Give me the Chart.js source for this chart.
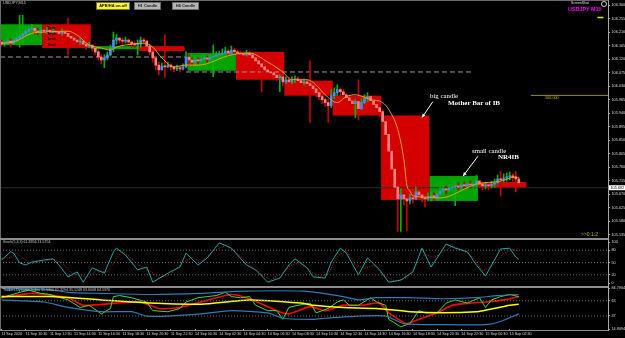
<!DOCTYPE html>
<html>
<head>
<meta charset="utf-8">
<script src="https://cdn.jsdelivr.net/npm/chart.js@4.4.1/dist/chart.umd.min.js"></script>
<style>
    html, body { margin: 0; padding: 0; background: #000; }
    #wrap { position: relative; width: 625px; height: 338px; overflow: hidden; background: #000; font-family: 'Liberation Sans', Arial, sans-serif; }
    canvas { position: absolute; left: 0; }
    .t { position: absolute; white-space: nowrap; line-height: 1; }
    .ln { position: absolute; background: #8c8c8c; }
    .btn { position: absolute; height: 6px; font-size: 4px; font-weight: bold; line-height: 6px; text-align: center; border: 1px solid #6a6a6a; }
    .serif { font-family: 'Liberation Serif', 'Times New Roman', serif; color: #fff; }
</style>
</head>
<body>
<div id="wrap">
    <canvas id="mainChart" width="625" height="238" style="top:0"></canvas>
    <canvas id="stochChart" width="625" height="52" style="top:236px"></canvas>
    <canvas id="tdiChart" width="625" height="54" style="top:284px"></canvas>

    <!-- frame -->
    <div class="ln" style="left:0;top:0;width:608px;height:1px;background:#6a6a6a"></div>
    <div class="ln" style="left:0;top:0;width:1px;height:331px;background:#6a6a6a"></div>
    <div class="ln" style="left:0;top:238px;width:608px;height:2px"></div>
    <div class="ln" style="left:0;top:286px;width:608px;height:2px"></div>
    <div class="ln" style="left:0;top:330px;width:609px;height:1px"></div>
    <div class="ln" style="left:608px;top:0;width:1px;height:331px;background:#a8a8a8"></div>

    <!-- header -->
    <div class="t" style="left:3px;top:2px;font-size:3.8px;color:#c8c8c8">USDJPY,M15</div>
    <div class="btn" style="left:96px;top:2px;width:32px;background:#ffff00;color:#000">APB/HA on-off</div>
    <div class="btn" style="left:134px;top:2px;width:25px;background:#b4b4b4;color:#202020">H1 Candle</div>
    <div class="btn" style="left:172px;top:2px;width:25px;background:#b4b4b4;color:#202020">H4 Candle</div>
    <div class="t" style="left:571px;top:1.5px;font-size:3.4px;color:#e0e0e0">ScreenShot</div>
    <div style="position:absolute;left:601px;top:1px;width:4px;height:4px;border:1px solid #d0d0d0;border-radius:50%"></div>
    <div class="t" style="left:568px;top:7px;font-size:5.4px;font-weight:bold;color:#ff00ff">USDJPY M15</div>

    <!-- objects on chart -->
    <div class="t" style="left:47px;top:25.5px;font-size:4.4px;font-weight:bold;color:#000">Text</div>
    <div class="t" style="left:47px;top:31.5px;font-size:4.4px;font-weight:bold;color:#000">Text</div>
    <div class="t" style="left:47px;top:37px;font-size:4.4px;font-weight:bold;color:#000">Text</div>
    <div class="t" style="left:47px;top:43px;font-size:4.4px;font-weight:bold;color:#000">Text</div>
    <div class="t serif" style="left:430px;top:93px;font-size:6.8px">big candle</div>
    <div class="t serif" style="left:448px;top:100px;font-size:7px;font-weight:bold">Mother Bar of IB</div>
    <div class="t serif" style="left:472px;top:148px;font-size:6.8px">small candle</div>
    <div class="t serif" style="left:498px;top:154px;font-size:7px;font-weight:bold">NR4IB</div>
    <div class="t" style="left:545px;top:96.5px;font-size:3.8px;color:#b8b800">106.000</div>
    <div class="t" style="left:581px;top:232px;font-size:5px;color:#b8b800">&gt;&gt;0:1:2</div>

    <!-- indicator captions -->
    <div class="t" style="left:3px;top:241px;font-size:3.6px;color:#c8c8c8">Stoch(5,3,3) 61.8356 74.5754</div>
    <div class="t" style="left:3px;top:289px;font-size:3.6px;color:#c8c8c8">Traders Dynamic Index 31.5300 61.3294 35.1248 63.6008 64.5376</div>
</div>

<script>
// ============================================
// USDJPY M15 - APB/HA bars with H4 boxes, Stoch, TDI
// ============================================

Chart.defaults.font.family = "'Liberation Sans', Arial, sans-serif";

// --- PRICE DATA (one value per M15 bar, index 0 = 11 Sep 08:30) ---
const firstOpen = 106.178;
const barClose = [
    106.171, 106.174, 106.181, 106.174, 106.184, 106.191, 106.197, 106.204, 106.214, 106.221,
    106.224, 106.214, 106.211, 106.217, 106.214, 106.217, 106.211, 106.214, 106.211, 106.207,
    106.211, 106.207, 106.197, 106.191, 106.184, 106.178, 106.181, 106.171, 106.164, 106.168,
    106.158, 106.145, 106.128, 106.118, 106.125, 106.135, 106.158, 106.184, 106.191, 106.184,
    106.181, 106.184, 106.178, 106.171, 106.168, 106.171, 106.184, 106.181, 106.164, 106.145,
    106.125, 106.101, 106.085, 106.098, 106.095, 106.101, 106.095, 106.088, 106.092, 106.088,
    106.095, 106.128, 106.118, 106.111, 106.118, 106.115, 106.121, 106.125, 106.121, 106.128,
    106.131, 106.135, 106.138, 106.141, 106.148, 106.141, 106.151, 106.145, 106.141, 106.138,
    106.135, 106.141, 106.135, 106.125, 106.115, 106.105, 106.095, 106.085, 106.078, 106.075,
    106.068, 106.059, 106.062, 106.045, 106.052, 106.045, 106.052, 106.055, 106.049, 106.042,
    106.045, 106.039, 106.032, 106.022, 106.009, 105.996, 105.986, 105.976, 105.966, 105.999,
    106.009, 106.019, 106.012, 106.002, 105.992, 105.982, 105.972, 105.979, 105.956, 105.976,
    105.989, 105.996, 105.982, 105.969, 105.959, 105.946, 105.913, 105.870, 105.814, 105.754,
    105.694, 105.655, 105.668, 105.655, 105.648, 105.658, 105.655, 105.678, 105.668, 105.658,
    105.655, 105.661, 105.665, 105.658, 105.671, 105.681, 105.688, 105.685, 105.691, 105.694,
    105.698, 105.694, 105.701, 105.698, 105.704, 105.701, 105.704, 105.714, 105.704, 105.698,
    105.701, 105.698, 105.704, 105.708, 105.721, 105.718, 105.724, 105.728, 105.731, 105.728,
    105.721, 105.708
];
const barHigh = [
    106.184, 106.184, 106.191, 106.188, 106.194, 106.207, 106.267, 106.267, 106.227, 106.231,
    106.237, 106.227, 106.224, 106.227, 106.224, 106.227, 106.221, 106.224, 106.221, 106.217,
    106.221, 106.217, 106.257, 106.204, 106.197, 106.191, 106.191, 106.184, 106.178, 106.178,
    106.168, 106.161, 106.151, 106.135, 106.135, 106.145, 106.168, 106.211, 106.204, 106.194,
    106.191, 106.194, 106.188, 106.181, 106.178, 106.184, 106.194, 106.191, 106.184, 106.171,
    106.151, 106.131, 106.111, 106.108, 106.201, 106.111, 106.105, 106.098, 106.101, 106.098,
    106.105, 106.145, 106.135, 106.125, 106.128, 106.125, 106.131, 106.135, 106.131, 106.138,
    106.168, 106.145, 106.148, 106.154, 106.161, 106.154, 106.164, 106.158, 106.151, 106.148,
    106.145, 106.151, 106.148, 106.138, 106.128, 106.118, 106.141, 106.098, 106.092, 106.085,
    106.082, 106.072, 106.068, 106.065, 106.062, 106.059, 106.062, 106.065, 106.062, 106.055,
    106.055, 106.052, 106.115, 106.039, 106.025, 106.012, 106.002, 105.992, 105.986, 106.019,
    106.025, 106.035, 106.025, 106.019, 106.006, 105.996, 105.989, 105.986, 106.052, 105.989,
    106.002, 106.009, 105.996, 105.986, 105.972, 105.966, 105.953, 105.926, 105.886, 105.820,
    105.771, 105.704, 105.688, 105.675, 105.671, 105.671, 105.668, 105.694, 105.685, 105.675,
    105.668, 105.675, 105.678, 105.675, 105.681, 105.694, 105.701, 105.698, 105.704, 105.708,
    105.714, 105.708, 105.708, 105.711, 105.711, 105.714, 105.711, 105.734, 105.718, 105.711,
    105.711, 105.711, 105.714, 105.721, 105.734, 105.747, 105.738, 105.741, 105.744, 105.738,
    105.747, 105.728
];
const barLow = [
    106.164, 106.164, 106.168, 106.161, 106.171, 106.178, 106.161, 106.168, 106.194, 106.204,
    106.211, 106.204, 106.201, 106.204, 106.204, 106.207, 106.201, 106.204, 106.201, 106.197,
    106.201, 106.197, 106.135, 106.181, 106.174, 106.168, 106.171, 106.161, 106.154, 106.158,
    106.148, 106.135, 106.118, 106.105, 106.092, 106.118, 106.131, 106.145, 106.171, 106.174,
    106.171, 106.174, 106.168, 106.161, 106.158, 106.135, 106.161, 106.171, 106.154, 106.135,
    106.111, 106.085, 106.068, 106.085, 106.059, 106.092, 106.085, 106.078, 106.082, 106.078,
    106.085, 106.092, 106.098, 106.098, 106.105, 106.105, 106.108, 106.111, 106.108, 106.115,
    106.062, 106.121, 106.125, 106.128, 106.135, 106.131, 106.138, 106.135, 106.131, 106.128,
    106.125, 106.131, 106.125, 106.115, 106.105, 106.095, 106.012, 106.075, 106.068, 106.065,
    106.059, 106.049, 106.012, 106.032, 106.039, 106.035, 106.039, 106.042, 106.039, 106.032,
    106.035, 106.029, 105.910, 106.012, 105.996, 105.986, 105.972, 105.963, 105.910, 105.959,
    105.989, 105.999, 105.999, 105.989, 105.979, 105.969, 105.959, 105.926, 105.920, 105.953,
    105.972, 105.979, 105.969, 105.956, 105.943, 105.929, 105.903, 105.853, 105.787, 105.721,
    105.655, 105.546, 105.546, 105.635, 105.549, 105.638, 105.641, 105.651, 105.655, 105.645,
    105.628, 105.648, 105.648, 105.648, 105.658, 105.665, 105.671, 105.671, 105.678, 105.681,
    105.632, 105.685, 105.685, 105.688, 105.688, 105.691, 105.691, 105.688, 105.691, 105.685,
    105.688, 105.685, 105.691, 105.694, 105.704, 105.665, 105.711, 105.714, 105.718, 105.714,
    105.678, 105.701
];

// --- H4 CANDLE BOXES (first bar, last bar, open, close) ---
const h4Start = [-2, 14, 30, 46, 62, 78, 94, 110, 126, 142, 158];
const h4End   = [13, 29, 45, 60, 77, 93, 109, 125, 141, 157, 173];
const h4Open  = [106.168, 106.237, 106.154, 106.164, 106.082, 106.145, 106.049, 105.999, 105.933, 105.648, 105.711];
const h4Close = [106.237, 106.158, 106.164, 106.148, 106.141, 106.052, 105.999, 105.933, 105.651, 105.731, 105.691];

// --- MOVING AVERAGE (orange) ---
const maIdx = [0, 4, 10, 14, 22, 25, 29, 33, 36, 38, 41, 47, 50, 53, 57, 61, 65, 76, 82, 88,
    93, 96, 101, 104, 107, 111, 114, 117, 122, 126, 128, 131, 133, 134, 135, 136, 140, 145, 157, 165, 170, 171];
const maVal = [106.174, 106.178, 106.207, 106.211, 106.214, 106.201, 106.168, 106.158, 106.151, 106.161,
    106.168, 106.174, 106.161, 106.125, 106.095, 106.101, 106.101, 106.135, 106.141, 106.111,
    106.078, 106.052, 106.052, 106.035, 106.002, 105.976, 105.996, 106.002, 105.986, 105.976,
    105.953, 105.886, 105.787, 105.701, 105.681, 105.665, 105.661, 105.658, 105.704, 105.714, 105.728, 105.724];

// --- LEVELS ---
const dashPrice = [106.128, 106.078];
const dashFrom  = [-0.5, 61];
const dashTo    = [61, 156];
const roundPrice = 106.000;
const bidPrice = 105.692;
const markPrice = 106.260;

// --- AXES ---
const priceTicks = [106.300, 106.255, 106.210, 106.165, 106.120, 106.075, 106.030, 105.985, 105.940,
    105.895, 105.850, 105.805, 105.760, 105.715, 105.670, 105.625, 105.580, 105.535];
const timeIdx = [0, 8, 16, 24, 32, 40, 48, 56, 64, 72, 80, 88, 96, 104, 112, 120, 128, 136, 144, 152, 160, 168];
const timeLabels = ['11 Sep 2020', '11 Sep 10:30', '11 Sep 12:30', '11 Sep 14:30', '11 Sep 16:30', '11 Sep 18:30',
    '11 Sep 20:30', '11 Sep 22:30', '14 Sep 00:30', '14 Sep 02:30', '14 Sep 04:30', '14 Sep 06:30',
    '14 Sep 08:30', '14 Sep 10:30', '14 Sep 12:30', '14 Sep 14:30', '14 Sep 16:30', '14 Sep 18:30',
    '14 Sep 20:30', '14 Sep 22:30', '15 Sep 00:30', '15 Sep 02:30'];

// --- STOCHASTIC (5,3,3) ---
const stochIdx = [0, 3, 4, 6, 8, 10, 14, 17, 19, 22, 25, 27, 30, 34, 37, 38, 41, 45, 48, 50, 55, 59, 61, 65, 68,
    72, 76, 81, 84, 88, 92, 95, 97, 101, 103, 107, 109, 112, 114, 118, 121, 125, 128, 132, 136, 139, 142,
    147, 150, 154, 157, 160, 165, 168, 170, 171];
const stochMain = [56, 76, 73, 49, 44, 51, 56, 59, 44, 15, 27, 2, 37, 24, 76, 85, 68, 32, 39, 2, 24, 39, 73, 44, 61,
    98, 85, 44, 32, 2, 12, 44, 59, 37, 15, 12, 51, 85, 73, 20, 61, 32, 2, 7, 27, 85, 39,
    95, 85, 76, 44, 17, 83, 85, 63, 58];
const signalIdx = [0, 3, 5, 8, 10, 13, 17, 20, 23, 26, 29, 31, 35, 38, 40, 43, 46, 49, 52, 56, 60, 63, 66, 70, 74,
    78, 82, 86, 89, 93, 96, 99, 102, 105, 108, 111, 114, 117, 120, 123, 126, 130, 134, 137, 140, 143, 146,
    149, 152, 156, 159, 162, 166, 169, 171];
const stochSignal = [60, 62, 72, 56, 47, 52, 58, 50, 25, 18, 14, 30, 27, 60, 78, 60, 40, 30, 12, 22, 50, 62, 52, 78, 92,
    72, 45, 20, 8, 25, 45, 50, 30, 15, 22, 65, 78, 45, 35, 45, 20, 5, 12, 45, 70, 62, 75,
    90, 82, 62, 30, 40, 72, 82, 78];
const stochLevels = [80, 50, 20];
const stochTicks = [100, 80, 50, 20, 0];

// --- TRADERS DYNAMIC INDEX ---
const upperIdx = [0, 14, 22, 33, 50, 66, 80, 100, 113, 118, 124, 135, 146, 157, 164, 171];
const upperBand = [84.0, 83.0, 77.4, 75.6, 73.7, 75.6, 79.3, 79.3, 70.1, 64.5, 68.2, 68.2, 66.4, 68.2, 71.9, 73.7];
const lowerIdx = [0, 14, 22, 33, 43, 48, 55, 66, 76, 88, 93, 103, 107, 118, 127, 133, 146, 160, 165, 171];
const lowerBand = [64.5, 60.9, 51.6, 44.3, 44.3, 36.9, 36.9, 40.6, 46.1, 42.4, 33.2, 31.4, 33.2, 36.9, 36.9, 24.0, 22.2, 22.2, 27.7, 40.6];
const midIdx = [0, 16, 33, 49, 66, 82, 99, 103, 113, 124, 135, 146, 157, 161, 168, 171];
const midBand = [70.1, 70.1, 64.5, 59.0, 57.2, 64.5, 59.0, 55.3, 51.6, 49.8, 44.3, 42.4, 44.3, 48.0, 55.3, 57.2];
const rsiIdx = [0, 6, 9, 13, 16, 22, 26, 29, 33, 36, 37, 39, 43, 48, 50, 55, 59, 61, 65, 71, 74, 76, 79, 82, 84,
    88, 91, 93, 95, 98, 102, 104, 108, 111, 113, 115, 118, 122, 124, 127, 128, 132, 135, 138, 140, 144,
    147, 150, 154, 158, 160, 162, 165, 168, 171];
const rsiLine = [68.2, 77.4, 81.1, 75.6, 73.7, 64.5, 51.6, 55.3, 40.6, 49.8, 70.1, 71.9, 68.2, 60.9, 46.1, 44.3, 49.8,
    60.9, 68.2, 71.9, 77.4, 70.1, 68.2, 70.1, 55.3, 46.1, 46.1, 31.4, 51.6, 55.3, 59.0, 42.4, 49.8, 60.9, 64.5,
    55.3, 55.3, 68.2, 60.9, 55.3, 31.4, 18.5, 24.0, 46.1, 42.4, 42.4, 59.0, 64.5, 59.0, 68.2, 51.6, 64.5, 70.1, 73.7, 70.1];
const sigIdx = [0, 10, 22, 27, 38, 46, 52, 59, 66, 76, 83, 91, 95, 102, 107, 113, 119, 125, 128, 134, 138, 144, 149, 155, 160, 166, 171];
const sigLine = [68.2, 75.6, 68.2, 55.3, 59.0, 60.9, 49.8, 51.6, 60.9, 73.7, 64.5, 46.1, 40.6, 53.0, 46.1, 55.3, 55.3,
    59.0, 42.4, 24.0, 31.4, 42.4, 55.3, 59.0, 60.9, 64.5, 70.1];
const tdiLevels = [63, 37];
const tdiTicks = [84.7904, 63, 37, 14.8094];

// --- ANNOTATION ARROWS (bar index / price) ---
const arrows = [
    { fromIdx: 142.6, fromPrice: 105.979, toIdx: 139.0, toPrice: 105.926 },
    { fromIdx: 157.5, fromPrice: 105.797, toIdx: 152.6, toPrice: 105.731 }
];

// --- COLOURS ---
const BULL_BODY = '#4f86f7';
const BEAR_BODY = '#ff7f7f';
const BULL_WICK = '#00b400';
const BEAR_WICK = '#c80000';
const AXIS_TEXT = '#d8d8d8';

// --- BUILD TABLES ---
const barOpen = barClose.map((c, i) => i === 0 ? firstOpen : barClose[i - 1]);
const isBull = barClose.map((c, i) => c >= barOpen[i]);
const pts = (idx, vals) => idx.map((x, k) => ({ x, y: vals[k] }));
const hline = (from, to, y) => [{ x: from, y }, { x: to, y }];

const X_MIN = -0.5;
const X_MAX = 200.5;

function yAxis(opts) {
    return Object.assign({
        position: 'right',
        afterFit: s => { s.width = 17; },
        grid: { drawOnChartArea: false, drawTicks: true, tickLength: 2, color: '#b0b0b0' },
        border: { display: false },
        ticks: { color: AXIS_TEXT, padding: 1.5, font: { size: 3.8, lineHeight: 1 } }
    }, opts);
}

function hiddenX() {
    return { type: 'linear', display: false, min: X_MIN, max: X_MAX, offset: false };
}

// --- PLUGINS ---
const h4BoxPlugin = {
    id: 'h4Boxes',
    beforeDatasetsDraw(chart) {
        const { ctx, chartArea, scales: { x, y } } = chart;
        ctx.save();
        ctx.beginPath();
        ctx.rect(chartArea.left, chartArea.top, chartArea.width, chartArea.height);
        ctx.clip();
        h4Start.forEach((s, k) => {
            const x0 = x.getPixelForValue(s - 0.5);
            const x1 = x.getPixelForValue(h4End[k] + 0.5);
            const yA = y.getPixelForValue(h4Open[k]);
            const yB = y.getPixelForValue(h4Close[k]);
            ctx.fillStyle = h4Close[k] >= h4Open[k] ? '#00a400' : '#d40000';
            ctx.fillRect(x0, Math.min(yA, yB), x1 - x0, Math.max(Math.abs(yB - yA), 2));
        });
        ctx.restore();
    }
};

const annotationPlugin = {
    id: 'annotations',
    afterDatasetsDraw(chart) {
        const { ctx, scales: { x, y } } = chart;
        ctx.save();
        ctx.strokeStyle = '#ffffff';
        ctx.fillStyle = '#ffffff';
        ctx.lineWidth = 1;
        arrows.forEach(a => {
            const x0 = x.getPixelForValue(a.fromIdx), y0 = y.getPixelForValue(a.fromPrice);
            const x1 = x.getPixelForValue(a.toIdx), y1 = y.getPixelForValue(a.toPrice);
            ctx.beginPath();
            ctx.moveTo(x0, y0);
            ctx.lineTo(x1, y1);
            ctx.stroke();
            const ang = Math.atan2(y1 - y0, x1 - x0);
            ctx.beginPath();
            ctx.moveTo(x1, y1);
            ctx.lineTo(x1 - 4 * Math.cos(ang - 0.45), y1 - 4 * Math.sin(ang - 0.45));
            ctx.lineTo(x1 - 4 * Math.cos(ang + 0.45), y1 - 4 * Math.sin(ang + 0.45));
            ctx.closePath();
            ctx.fill();
        });
        ctx.restore();
    },
    afterDraw(chart) {
        const { ctx, chartArea, scales: { y } } = chart;
        const yb = y.getPixelForValue(bidPrice);
        ctx.save();
        ctx.fillStyle = '#ffffff';
        ctx.fillRect(chartArea.right + 1, yb - 2.5, 16, 5);
        ctx.fillStyle = '#000000';
        ctx.font = "3.8px 'Liberation Sans'";
        ctx.textBaseline = 'middle';
        ctx.fillText(bidPrice.toFixed(3), chartArea.right + 2.5, yb);
        ctx.restore();
    }
};

// --- MAIN PRICE CHART ---
new Chart(document.getElementById('mainChart'), {
    type: 'bar',
    data: {
        datasets: [
            {
                type: 'line', label: 'MA', data: pts(maIdx, maVal),
                borderColor: '#eaa21a', borderWidth: 1, pointRadius: 0,
                cubicInterpolationMode: 'monotone', order: 0
            },
            {
                label: 'body',
                data: barClose.map((c, i) => ({ x: i, y: [barOpen[i], c] })),
                backgroundColor: isBull.map(b => b ? BULL_BODY : BEAR_BODY),
                barThickness: 2, minBarLength: 1, grouped: false, order: 1
            },
            {
                label: 'wick',
                data: barHigh.map((h, i) => ({ x: i, y: [barLow[i], h] })),
                backgroundColor: isBull.map(b => b ? BULL_WICK : BEAR_WICK),
                barThickness: 1, grouped: false, order: 2
            },
            {
                type: 'line', label: 'level1', data: hline(dashFrom[0], dashTo[0], dashPrice[0]),
                borderColor: '#9a9a9a', borderWidth: 1, borderDash: [5, 3], pointRadius: 0, order: 3
            },
            {
                type: 'line', label: 'level2', data: hline(dashFrom[1], dashTo[1], dashPrice[1]),
                borderColor: '#9a9a9a', borderWidth: 1, borderDash: [5, 3], pointRadius: 0, order: 3
            },
            {
                type: 'line', label: 'round', data: hline(175, X_MAX, roundPrice),
                borderColor: '#959500', borderWidth: 1, pointRadius: 0, order: 3
            },
            {
                type: 'line', label: 'mark', data: hline(197, 199, markPrice),
                borderColor: '#e6e600', borderWidth: 1.5, pointRadius: 0, order: 3
            },
            {
                type: 'line', label: 'bid', data: hline(X_MIN, X_MAX, bidPrice),
                borderColor: '#2c2c2c', borderWidth: 1, pointRadius: 0, order: 9
            }
        ]
    },
    options: {
        responsive: false,
        animation: false,
        layout: { padding: { top: 3, bottom: 2, left: 0, right: 0 } },
        plugins: { legend: { display: false }, tooltip: { enabled: false } },
        scales: {
            x: hiddenX(),
            y: yAxis({
                min: 105.5357, max: 106.3067,
                afterBuildTicks: s => { s.ticks = priceTicks.map(v => ({ value: v })); },
                ticks: { color: AXIS_TEXT, padding: 1.5, font: { size: 3.8, lineHeight: 1 }, callback: v => v.toFixed(3) }
            })
        }
    },
    plugins: [h4BoxPlugin, annotationPlugin]
});

// --- STOCHASTIC PANEL ---
new Chart(document.getElementById('stochChart'), {
    type: 'line',
    data: {
        datasets: [
            { label: 'main', data: pts(stochIdx, stochMain), borderColor: '#22a7a7', borderWidth: 1, pointRadius: 0 },
            { label: 'signal', data: pts(signalIdx, stochSignal), borderColor: '#c81e1e', borderWidth: 1, borderDash: [1, 1.5], pointRadius: 0 },
            ...stochLevels.map(v => ({
                label: 'lvl' + v, data: hline(X_MIN, X_MAX, v),
                borderColor: '#6e6e6e', borderWidth: 1, borderDash: [1, 2], pointRadius: 0
            }))
        ]
    },
    options: {
        responsive: false,
        animation: false,
        layout: { padding: { top: 6, bottom: 5, left: 0, right: 0 } },
        plugins: { legend: { display: false }, tooltip: { enabled: false } },
        scales: {
            x: hiddenX(),
            y: yAxis({
                min: 0, max: 100,
                afterBuildTicks: s => { s.ticks = stochTicks.map(v => ({ value: v })); }
            })
        }
    }
});

// --- TRADERS DYNAMIC INDEX PANEL ---
new Chart(document.getElementById('tdiChart'), {
    type: 'line',
    data: {
        datasets: [
            ...tdiLevels.map(v => ({
                label: 'lvl' + v, data: hline(X_MIN, X_MAX, v),
                borderColor: '#6e6e6e', borderWidth: 1, borderDash: [1, 2], pointRadius: 0
            })),
            { label: 'upper', data: pts(upperIdx, upperBand), borderColor: '#2b7cb8', borderWidth: 1.2, pointRadius: 0, tension: 0.2 },
            { label: 'lower', data: pts(lowerIdx, lowerBand), borderColor: '#2b7cb8', borderWidth: 1.2, pointRadius: 0, tension: 0.2 },
            { label: 'middle', data: pts(midIdx, midBand), borderColor: '#ffff00', borderWidth: 1.5, pointRadius: 0, tension: 0.2 },
            { label: 'rsi', data: pts(rsiIdx, rsiLine), borderColor: '#38e038', borderWidth: 1, pointRadius: 0 },
            { label: 'signal', data: pts(sigIdx, sigLine), borderColor: '#ff0000', borderWidth: 1.6, pointRadius: 0, tension: 0.2 }
        ]
    },
    options: {
        responsive: false,
        animation: false,
        layout: { padding: { top: 4, bottom: 0, left: 0, right: 0 } },
        plugins: { legend: { display: false }, tooltip: { enabled: false } },
        scales: {
            x: {
                type: 'linear', min: X_MIN, max: X_MAX, offset: false,
                afterBuildTicks: s => { s.ticks = timeIdx.map(v => ({ value: v })); },
                afterFit: s => { s.height = 9; },
                grid: { drawOnChartArea: false, drawTicks: true, tickLength: 1.5, color: '#b0b0b0' },
                border: { display: false },
                ticks: {
                    autoSkip: false, maxRotation: 0, align: 'start', padding: 1.5,
                    color: AXIS_TEXT, font: { size: 3.7, lineHeight: 1 },
                    callback: v => timeLabels[timeIdx.indexOf(v)]
                }
            },
            y: yAxis({
                min: 14.8094, max: 84.7904,
                afterBuildTicks: s => { s.ticks = tdiTicks.map(v => ({ value: v })); },
                ticks: { color: AXIS_TEXT, padding: 1.5, font: { size: 3.8, lineHeight: 1 }, callback: v => Number.isInteger(v) ? String(v) : v.toFixed(4) }
            })
        }
    }
});
</script>
</body>
</html>
